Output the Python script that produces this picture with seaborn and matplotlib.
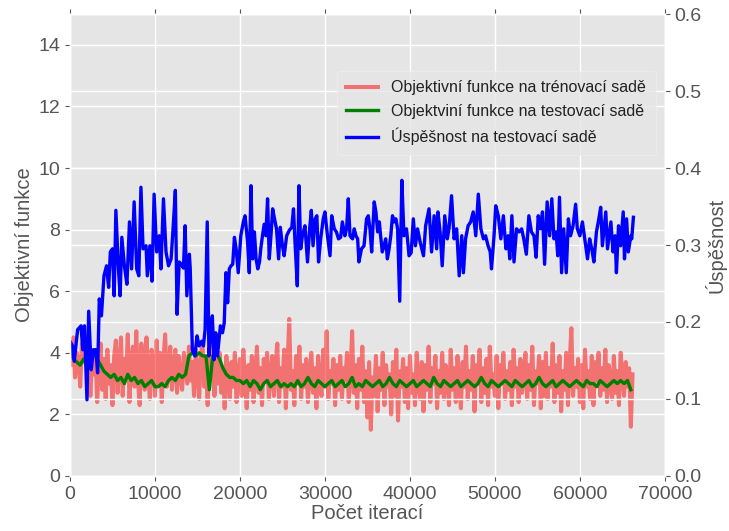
import numpy as np
import pandas as pd
import matplotlib
matplotlib.use("Agg")
import matplotlib.pyplot as plt
import seaborn as sns

# ---------------- data ----------------
train_step = 200
train_loss = [
    4.2, 3.6, 4.5, 3.2, 4.0, 3.8, 2.9, 4.3, 3.7, 4.4,
    3.5, 4.2, 2.6, 3.9, 3.3, 4.0, 2.4, 3.6, 4.3, 2.8,
    3.8, 2.5, 4.1, 3.0, 3.6, 2.3, 3.9, 4.4, 2.7, 3.5,
    4.5, 2.6, 3.8, 3.2, 4.6, 2.4, 3.7, 4.2, 2.9, 4.7,
    3.1, 2.3, 4.3, 3.6, 2.8, 4.5, 3.3, 2.5, 4.1, 3.7,
    2.6, 4.4, 3.0, 4.0, 2.4, 3.8, 4.6, 2.9, 3.4, 4.2,
    2.8, 3.6, 4.1, 2.7, 3.9, 3.2, 2.8, 4.0, 3.5, 3.0,
    4.2, 3.1, 3.7, 2.6, 4.1, 3.4, 2.5, 3.9, 4.3, 2.9,
    3.6, 2.3, 4.1, 3.3, 4.4, 2.6, 3.8, 3.0, 4.0, 2.7,
    3.5, 2.2, 3.9, 3.1, 2.5, 3.7, 2.9, 4.0, 2.4, 3.3,
    3.8, 2.6, 4.1, 3.0, 2.2, 3.6, 2.8, 3.9, 2.4, 3.4,
    4.2, 2.7, 3.5, 2.3, 3.8, 3.1, 4.0, 2.5, 3.3, 3.9,
    2.6, 3.7, 4.3, 2.4, 3.5, 2.9, 4.1, 2.2, 3.6, 5.1,
    2.8, 3.4, 2.3, 3.9, 3.0, 4.2, 2.5, 3.6, 2.9, 3.8,
    2.4, 3.3, 4.0, 2.7, 3.5, 2.2, 3.9, 3.1, 2.6, 4.1,
    2.9, 4.7, 2.5, 3.4, 3.0, 3.8, 2.3, 3.6, 2.8, 3.9,
    2.5, 3.5, 3.1, 4.0, 2.4, 3.3, 4.7, 2.7, 3.6, 2.2,
    3.8, 2.8, 4.2, 2.4, 3.4, 1.9, 3.7, 1.5, 3.2, 2.6,
    3.9, 2.1, 3.5, 2.8, 4.0, 2.3, 3.6, 2.9, 3.3, 2.0,
    3.7, 2.6, 4.1, 1.8, 3.4, 2.9, 3.8, 2.4, 3.5, 2.2,
    3.9, 2.7, 3.3, 2.3, 4.0, 3.0, 2.5, 3.7, 2.1, 3.6,
    2.8, 4.2, 2.4, 3.5, 3.0, 3.9, 2.2, 3.4, 2.7, 4.0,
    2.5, 3.6, 3.1, 2.3, 4.1, 2.8, 3.5, 2.4, 3.9, 3.0,
    2.2, 3.7, 2.9, 4.2, 2.5, 3.4, 2.8, 3.9, 2.1, 3.6,
    3.0, 4.1, 2.4, 3.5, 2.7, 3.8, 2.3, 4.2, 2.9, 3.3,
    2.6, 3.9, 2.2, 3.6, 3.1, 4.0, 2.5, 3.4, 2.8, 3.7,
    2.3, 4.1, 2.9, 3.5, 2.4, 3.8, 2.7, 3.2, 4.0, 2.5,
    3.6, 2.8, 4.2, 2.3, 3.4, 3.0, 3.9, 2.2, 3.7, 2.6,
    4.0, 2.5, 3.5, 2.9, 4.3, 2.4, 3.6, 2.7, 3.9, 2.1,
    3.4, 2.8, 4.0, 2.3, 3.7, 4.8, 2.6, 3.5, 2.9, 3.8,
    2.4, 3.6, 2.2, 4.1, 2.9, 3.4, 2.5, 3.9, 2.3, 3.7,
    3.1, 4.0, 2.6, 3.5, 2.8, 4.1, 2.4, 3.6, 3.0, 2.5,
    3.9, 2.7, 3.4, 2.3, 4.0, 3.2, 2.6, 3.7, 2.9, 3.5,
    1.6, 3.3,
]

test_step = 400
test_loss = [
    4.1, 3.8, 3.7, 3.6, 3.8, 3.7, 3.9, 4.0, 3.8, 3.6,
    3.4, 3.3, 3.2, 3.3, 3.1, 3.2, 3.0, 3.3, 3.1, 3.2,
    3.0, 3.1, 2.9, 3.0, 3.1, 2.9, 2.9, 3.0, 2.9, 3.1,
    3.2, 3.1, 3.3, 3.2, 3.3, 3.9, 4.0, 3.9, 4.0, 3.9,
    3.9, 2.8, 3.9, 4.0, 3.8, 3.5, 3.3, 3.2, 3.2, 3.1,
    3.1, 3.0, 3.1, 2.9, 3.1, 3.0, 2.8, 3.0, 3.1, 2.9,
    3.0, 3.1, 2.9, 3.0, 2.9, 3.0, 2.9, 3.1, 2.9, 3.0,
    3.2, 3.0, 2.9, 3.1, 3.0, 2.9, 3.0, 3.1, 2.9, 3.0,
    3.1, 2.9, 3.0, 3.2, 2.9, 3.0, 2.9, 3.1, 3.0, 2.9,
    3.0, 3.1, 2.9, 3.0, 3.2, 3.0, 2.9, 3.1, 3.0, 2.9,
    3.0, 3.1, 2.9, 3.0, 3.1, 3.0, 2.9, 3.2, 3.0, 2.9,
    3.1, 3.0, 2.9, 3.0, 3.1, 2.9, 3.0, 3.1, 3.0, 2.9,
    3.0, 3.2, 3.0, 2.9, 3.1, 3.0, 2.9, 3.0, 3.1, 3.0,
    2.9, 3.1, 3.0, 2.9, 3.0, 3.1, 2.9, 3.0, 3.2, 3.0,
    2.9, 3.0, 3.1, 2.9, 3.0, 3.1, 3.0, 2.9, 3.0, 3.1,
    3.0, 2.9, 3.1, 3.0, 3.0, 2.9, 3.1, 3.0, 2.9, 3.0,
    3.1, 3.0, 3.1, 3.0, 3.1, 2.8,
]

acc_iter = [
    0, 300, 500, 900, 1300, 1500, 1700, 2000, 2200, 2500,
    2750, 3050, 3250, 3450, 3700, 4000, 4300, 4550, 4750, 5000,
    5200, 5400, 5700, 5900, 6100, 6400, 6700, 7000, 7250, 7550,
    7850, 8100, 8350, 8600, 8950, 9100, 9400, 9650, 9900, 10200,
    10500, 10700, 11000, 11300, 11600, 11900, 12150, 12400, 12600, 12850,
    13100, 13350, 13550, 13750, 14050, 14150, 14400, 14700, 14950, 15200,
    15500, 15700, 15900, 16150, 16350, 16600, 16750, 16950, 17150, 17350,
    17700, 17950, 18150, 18350, 18550, 18750, 18950, 19150, 19350, 19550,
    19800, 20100, 20400, 20600, 20900, 21100, 21300, 21500, 21700, 21900,
    22100, 22300, 22450, 22650, 22850, 23050, 23250, 23450, 23650, 23850,
    24000, 24300, 24550, 24750, 25000, 25200, 25500, 25800, 26100, 26300,
    26500, 26750, 26950, 27150, 27350, 27650, 27950, 28200, 28400, 28600,
    28850, 29050, 29250, 29500, 29800, 30000, 30300, 30600, 30800, 31100,
    31350, 31600, 31850, 32050, 32350, 32550, 32750, 32950, 33250, 33450,
    33650, 33850, 34000, 34300, 34600, 34900, 35100, 35300, 35500, 35800,
    36000, 36200, 36400, 36550, 36750, 36950, 37150, 37350, 37550, 37750,
    37950, 38150, 38350, 38550, 38800, 39050, 39300, 39600, 39900, 40150,
    40400, 40650, 40900, 41200, 41600, 41850, 42250, 42550, 42850, 43150,
    43300, 43550, 43800, 44100, 44400, 44600, 44900, 45200, 45500, 45800,
    46100, 46300, 46550, 46850, 47150, 47450, 47750, 48050, 48350, 48650,
    48900, 49200, 49450, 49600, 49900, 50100, 50400, 50700, 51000, 51300,
    51550, 51750, 52000, 52250, 52550, 52850, 53150, 53400, 53700, 54000,
    54300, 54600, 54850, 55100, 55350, 55600, 55850, 56150, 56450, 56700,
    56950, 57200, 57400, 57600, 57850, 58100, 58400, 58650, 58900, 59200,
    59500, 59700, 60000, 60300, 60600, 60900, 61150, 61400, 61650, 61950,
    62200, 62450, 62650, 62850, 63050, 63250, 63450, 63650, 63900, 64150,
    64300, 64550, 64800, 65100, 65250, 65500, 65700, 66000, 66100, 66300,
]
accuracy = [
    0.175, 0.169, 0.149, 0.190, 0.195, 0.164, 0.195, 0.099, 0.214, 0.138,
    0.164, 0.164, 0.134, 0.230, 0.208, 0.260, 0.273, 0.245, 0.291, 0.295,
    0.234, 0.345, 0.269, 0.234, 0.310, 0.273, 0.249, 0.330, 0.269, 0.356,
    0.269, 0.260, 0.375, 0.295, 0.299, 0.260, 0.299, 0.253, 0.366, 0.291,
    0.312, 0.269, 0.360, 0.291, 0.273, 0.282, 0.325, 0.371, 0.210, 0.278,
    0.275, 0.270, 0.325, 0.234, 0.288, 0.269, 0.164, 0.156, 0.182, 0.169,
    0.175, 0.169, 0.190, 0.330, 0.156, 0.190, 0.208, 0.151, 0.186, 0.156,
    0.195, 0.186, 0.199, 0.264, 0.225, 0.269, 0.273, 0.275, 0.310, 0.295,
    0.264, 0.312, 0.330, 0.338, 0.304, 0.264, 0.377, 0.282, 0.317, 0.282,
    0.269, 0.278, 0.295, 0.312, 0.327, 0.312, 0.360, 0.282, 0.312, 0.347,
    0.338, 0.321, 0.282, 0.323, 0.299, 0.286, 0.312, 0.319, 0.323, 0.347,
    0.299, 0.247, 0.377, 0.295, 0.312, 0.325, 0.278, 0.321, 0.345, 0.299,
    0.334, 0.338, 0.278, 0.308, 0.334, 0.343, 0.312, 0.286, 0.338, 0.321,
    0.317, 0.308, 0.310, 0.330, 0.312, 0.321, 0.360, 0.312, 0.308, 0.321,
    0.312, 0.308, 0.278, 0.295, 0.299, 0.334, 0.338, 0.321, 0.291, 0.356,
    0.343, 0.317, 0.330, 0.312, 0.291, 0.299, 0.308, 0.282, 0.295, 0.312,
    0.338, 0.330, 0.334, 0.321, 0.227, 0.384, 0.312, 0.321, 0.286, 0.290,
    0.334, 0.299, 0.321, 0.304, 0.286, 0.325, 0.347, 0.291, 0.338, 0.295,
    0.343, 0.317, 0.273, 0.338, 0.308, 0.321, 0.364, 0.308, 0.321, 0.260,
    0.312, 0.264, 0.308, 0.325, 0.330, 0.343, 0.312, 0.366, 0.321, 0.308,
    0.312, 0.299, 0.291, 0.269, 0.312, 0.351, 0.338, 0.308, 0.338, 0.295,
    0.312, 0.282, 0.338, 0.278, 0.321, 0.317, 0.321, 0.308, 0.288, 0.338,
    0.317, 0.312, 0.284, 0.338, 0.321, 0.343, 0.275, 0.356, 0.312, 0.360,
    0.308, 0.317, 0.286, 0.362, 0.264, 0.321, 0.264, 0.334, 0.312, 0.325,
    0.353, 0.321, 0.312, 0.330, 0.306, 0.282, 0.308, 0.295, 0.278, 0.317,
    0.332, 0.349, 0.299, 0.321, 0.343, 0.295, 0.312, 0.330, 0.291, 0.312,
    0.264, 0.325, 0.299, 0.343, 0.282, 0.334, 0.291, 0.312, 0.308, 0.336,
]

labels = ["Objektivní funkce na trénovací sadě",
          "Objektviní funkce na testovací sadě",
          "Úspěšnost na testovací sadě"]

df_train = pd.DataFrame({"it": np.arange(len(train_loss)) * train_step, "v": train_loss})
df_test = pd.DataFrame({"it": np.arange(len(test_loss)) * test_step, "v": test_loss})
df_acc = pd.DataFrame({"it": acc_iter, "v": accuracy})

# ---------------- style ----------------
plt.style.use("ggplot")
plt.rcParams["font.family"] = ["Liberation Sans", "DejaVu Sans"]

fig = plt.figure(figsize=(7.29, 5.31), dpi=100)
ax = fig.add_axes([0.096, 0.1036, 0.816, 0.8700])
ax2 = ax.twinx()

sns.lineplot(data=df_train, x="it", y="v", ax=ax, color="red", alpha=0.5,
             linewidth=2.9, label=labels[0], legend=False)
sns.lineplot(data=df_test, x="it", y="v", ax=ax, color="green",
             linewidth=2.4, label=labels[1], legend=False)
sns.lineplot(data=df_acc, x="it", y="v", ax=ax2, color="blue",
             linewidth=2.4, label=labels[2], legend=False)

ax.set_xlim(0, 70000)
ax.set_ylim(0, 15)
ax.set_yticks(range(0, 15, 2))
ax2.set_ylim(0, 0.6)
ax2.set_yticks([0.0, 0.1, 0.2, 0.3, 0.4, 0.5, 0.6])

ax.set_xlabel("Počet iterací", fontsize=14.5, color="#555555", labelpad=1)
ax.set_ylabel("Objektivní funkce", fontsize=14.5, color="#555555", labelpad=3)
ax2.set_ylabel("Úspěšnost", fontsize=14.5, color="#555555", labelpad=2)

ax.tick_params(axis="both", labelsize=14, colors="#555555", labelcolor="#555555")
ax.tick_params(axis="x", top=True)
ax2.tick_params(axis="y", labelsize=14, colors="#555555", labelcolor="#555555")
ax2.grid(True, color="white", linewidth=1.0)
ax.grid(True, color="white", linewidth=1.0)

h1, l1 = ax.get_legend_handles_labels()
h2, l2 = ax2.get_legend_handles_labels()
leg = ax2.legend(h1 + h2, l1 + l2, loc="upper right", bbox_to_anchor=(0.998, 0.895),
                 fontsize=11.5, frameon=True, facecolor="#E5E5E5", edgecolor="#F0F0F0",
                 handlelength=2.0, borderpad=0.6, labelspacing=0.55)
for t in leg.get_texts():
    t.set_color("#222222")

fig.savefig("out.png", dpi=100)
